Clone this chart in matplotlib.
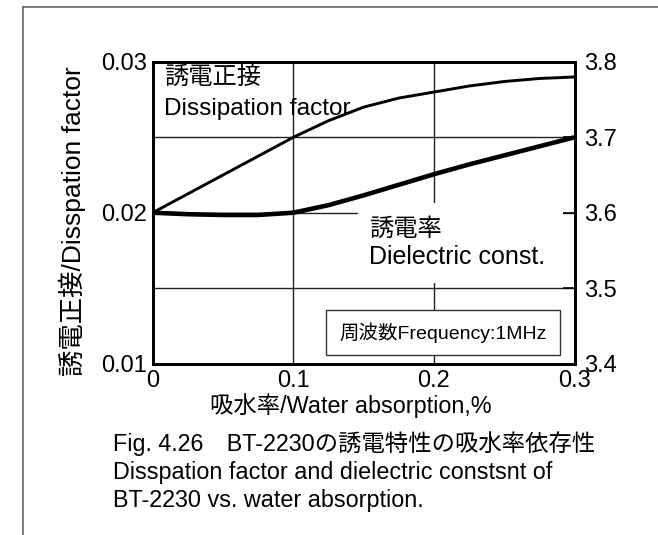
import matplotlib
matplotlib.use("Agg")
import matplotlib.pyplot as plt
from matplotlib.lines import Line2D
from matplotlib.patches import Rectangle

plt.rcParams['font.family'] = ['Liberation Sans', 'Noto Sans CJK JP']

# Water absorption (%) and measured properties at 1 MHz
water_absorption = [0.0, 0.025, 0.05, 0.075, 0.1, 0.125, 0.15, 0.175, 0.2, 0.225, 0.25, 0.275, 0.3]
dissipation_factor = [0.0200, 0.02125, 0.0225, 0.02375, 0.0250, 0.0261, 0.0270, 0.0276,
                      0.0280, 0.0284, 0.0287, 0.0289, 0.0290]
dielectric_const = [3.600, 3.598, 3.597, 3.597, 3.600, 3.610, 3.623, 3.637,
                    3.651, 3.664, 3.676, 3.688, 3.700]

x_ticks = [0, 0.1, 0.2, 0.3]
x_ticklabels = ['0', '0.1', '0.2', '0.3']
df_ticks = [0.01, 0.02, 0.03]
df_ticklabels = ['0.01', '0.02', '0.03']
dk_ticks = [3.4, 3.5, 3.6, 3.7, 3.8]
dk_ticklabels = ['3.4', '3.5', '3.6', '3.7', '3.8']
df_grid = [0.015, 0.02, 0.025]
x_grid = [0.1, 0.2]

W, H = 658, 535
fig = plt.figure(figsize=(W / 100, H / 100), dpi=100)
fig.patch.set_facecolor('white')

L, R, T, B = 152.7, 574.5, 61.9, 363.5
ax = fig.add_axes([L / W, (H - B) / H, (R - L) / W, (B - T) / H])


def fx(px):
    return (px - L) / (R - L)


def fy(py):
    return (B - py) / (B - T)


ax.set_xlim(0, 0.3)
ax.set_ylim(0.01, 0.03)

for v in df_grid:
    ax.axhline(v, color='#222222', lw=1.0, zorder=1)
for v in x_grid:
    ax.axvline(v, color='#222222', lw=1.0, zorder=1)

ax.plot(water_absorption, dissipation_factor, color='black', lw=2.1, zorder=5,
        solid_capstyle='round')

ax.set_xticks(x_ticks)
ax.set_xticklabels(x_ticklabels)
ax.set_yticks(df_ticks)
ax.set_yticklabels(df_ticklabels)
ax.tick_params(axis='both', direction='in', length=0, labelsize=17)
ax.tick_params(axis='y', pad=4)
ax.tick_params(axis='x', pad=5)

for s in ax.spines.values():
    s.set_linewidth(2.0)
    s.set_color('black')

ax2 = ax.twinx()
ax2.set_ylim(3.4, 3.8)
ax2.plot(water_absorption, dielectric_const, color='black', lw=3.3, zorder=5,
         solid_capstyle='round')
ax2.set_yticks(dk_ticks)
ax2.set_yticklabels(dk_ticklabels)
ax2.tick_params(axis='y', direction='in', length=9, width=1.2, labelsize=17, pad=7)
for s in ax2.spines.values():
    s.set_linewidth(2.0)

# Curve annotations
ax.text(fx(164), fy(78), '誘電正接', transform=ax.transAxes, fontsize=17.5,
        va='center', ha='left', zorder=3)
ax.text(fx(164), fy(109), 'Dissipation factor', transform=ax.transAxes, fontsize=17.6,
        va='center', ha='left', zorder=3)

ax.add_patch(Rectangle((fx(358), fy(283)), fx(563) - fx(358), fy(203) - fy(283),
                       transform=ax.transAxes, facecolor='white', edgecolor='none', zorder=2))
ax.text(fx(369), fy(230), '誘電率', transform=ax.transAxes, fontsize=17.5,
        va='center', ha='left', zorder=3)
ax.text(fx(369), fy(257), 'Dielectric const.', transform=ax.transAxes, fontsize=18,
        va='center', ha='left', zorder=3)

# Measurement condition box
ax.add_patch(Rectangle((fx(326), fy(355)), fx(560) - fx(326), fy(310) - fy(355),
                       transform=ax.transAxes, facecolor='white', edgecolor='#333333',
                       lw=1.0, zorder=2))
ax.text((fx(326) + fx(560)) / 2, fy(332.5), '周波数Frequency:1MHz', transform=ax.transAxes,
        fontsize=14, va='center', ha='center', zorder=3)

# Axis titles
fig.text(351 / W, 1 - 406 / H, '吸水率/Water absorption,%', fontsize=16.8,
         ha='center', va='center')
fig.text(72 / W, 1 - 221 / H, '誘電正接/Disspation factor', fontsize=19,
         ha='center', va='center', rotation=90)

# Figure caption
fig.text(113 / W, 1 - 444 / H, 'Fig. 4.26\u3000BT-2230の誘電特性の吸水率依存性', fontsize=16.8,
         ha='left', va='center')
fig.text(113 / W, 1 - 472 / H, 'Disspation factor and dielectric constsnt of', fontsize=16.8,
         ha='left', va='center')
fig.text(113 / W, 1 - 500 / H, 'BT-2230 vs. water absorption.', fontsize=16.8,
         ha='left', va='center')

# Page frame
fig.add_artist(Line2D([23 / W, 23 / W], [0, 1 - 7 / H], color='#666666', lw=1.2))
fig.add_artist(Line2D([23 / W, 1], [1 - 7 / H, 1 - 7 / H], color='#666666', lw=1.2))

fig.savefig('out.png', dpi=100)
